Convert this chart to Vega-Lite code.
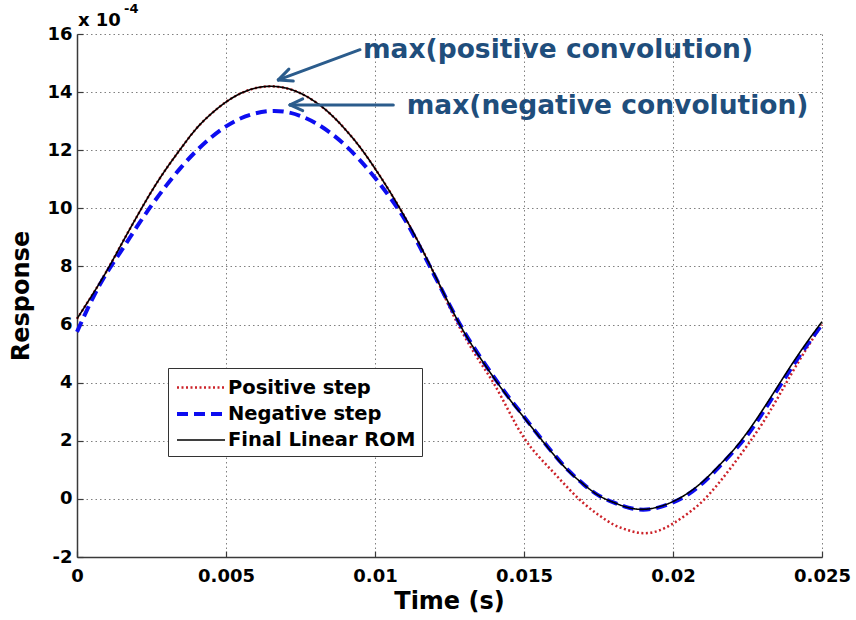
{
  "$schema": "https://vega.github.io/schema/vega-lite/v6.json",
  "width": 745,
  "height": 523,
  "autosize": {"type": "none"},
  "padding": {"left": 77, "top": 34, "right": 34, "bottom": 63},
  "background": "white",
  "config": {"view": {"stroke": null}, "font": "DejaVu Sans"},
  "datasets": {
    "curves": [
      {"t":0,"v":6.2,"s":"Positive step"},{"t":0.0005,"v":7.0,"s":"Positive step"},{"t":0.001,"v":7.85,"s":"Positive step"},{"t":0.0015,"v":8.78,"s":"Positive step"},{"t":0.002,"v":9.7,"s":"Positive step"},{"t":0.0025,"v":10.58,"s":"Positive step"},{"t":0.003,"v":11.37,"s":"Positive step"},{"t":0.0035,"v":12.08,"s":"Positive step"},{"t":0.004,"v":12.74,"s":"Positive step"},{"t":0.0045,"v":13.25,"s":"Positive step"},{"t":0.005,"v":13.66,"s":"Positive step"},{"t":0.0055,"v":13.96,"s":"Positive step"},{"t":0.006,"v":14.14,"s":"Positive step"},{"t":0.0065,"v":14.2,"s":"Positive step"},{"t":0.007,"v":14.14,"s":"Positive step"},{"t":0.0075,"v":13.96,"s":"Positive step"},{"t":0.008,"v":13.66,"s":"Positive step"},{"t":0.0085,"v":13.25,"s":"Positive step"},{"t":0.009,"v":12.72,"s":"Positive step"},{"t":0.0095,"v":12.1,"s":"Positive step"},{"t":0.01,"v":11.37,"s":"Positive step"},{"t":0.0105,"v":10.57,"s":"Positive step"},{"t":0.011,"v":9.7,"s":"Positive step"},{"t":0.0115,"v":8.75,"s":"Positive step"},{"t":0.012,"v":7.72,"s":"Positive step"},{"t":0.0125,"v":6.6,"s":"Positive step"},{"t":0.013,"v":5.6,"s":"Positive step"},{"t":0.0135,"v":4.75,"s":"Positive step"},{"t":0.014,"v":3.95,"s":"Positive step"},{"t":0.0145,"v":3.0,"s":"Positive step"},{"t":0.015,"v":2.1,"s":"Positive step"},{"t":0.0155,"v":1.45,"s":"Positive step"},{"t":0.016,"v":0.9,"s":"Positive step"},{"t":0.0165,"v":0.35,"s":"Positive step"},{"t":0.017,"v":-0.15,"s":"Positive step"},{"t":0.0175,"v":-0.55,"s":"Positive step"},{"t":0.018,"v":-0.88,"s":"Positive step"},{"t":0.0185,"v":-1.08,"s":"Positive step"},{"t":0.019,"v":-1.18,"s":"Positive step"},{"t":0.0195,"v":-1.1,"s":"Positive step"},{"t":0.02,"v":-0.85,"s":"Positive step"},{"t":0.0205,"v":-0.5,"s":"Positive step"},{"t":0.021,"v":-0.07,"s":"Positive step"},{"t":0.0215,"v":0.5,"s":"Positive step"},{"t":0.022,"v":1.15,"s":"Positive step"},{"t":0.0225,"v":1.85,"s":"Positive step"},{"t":0.023,"v":2.6,"s":"Positive step"},{"t":0.0235,"v":3.45,"s":"Positive step"},{"t":0.024,"v":4.35,"s":"Positive step"},{"t":0.0245,"v":5.2,"s":"Positive step"},{"t":0.025,"v":6.0,"s":"Positive step"},
      {"t":0,"v":5.75,"s":"Negative step"},{"t":0.0005,"v":6.85,"s":"Negative step"},{"t":0.001,"v":7.78,"s":"Negative step"},{"t":0.0015,"v":8.56,"s":"Negative step"},{"t":0.002,"v":9.35,"s":"Negative step"},{"t":0.0025,"v":10.1,"s":"Negative step"},{"t":0.003,"v":10.79,"s":"Negative step"},{"t":0.0035,"v":11.42,"s":"Negative step"},{"t":0.004,"v":11.97,"s":"Negative step"},{"t":0.0045,"v":12.44,"s":"Negative step"},{"t":0.005,"v":12.82,"s":"Negative step"},{"t":0.0055,"v":13.1,"s":"Negative step"},{"t":0.006,"v":13.27,"s":"Negative step"},{"t":0.0065,"v":13.35,"s":"Negative step"},{"t":0.007,"v":13.32,"s":"Negative step"},{"t":0.0075,"v":13.18,"s":"Negative step"},{"t":0.008,"v":12.94,"s":"Negative step"},{"t":0.0085,"v":12.6,"s":"Negative step"},{"t":0.009,"v":12.17,"s":"Negative step"},{"t":0.0095,"v":11.65,"s":"Negative step"},{"t":0.01,"v":11.05,"s":"Negative step"},{"t":0.0105,"v":10.38,"s":"Negative step"},{"t":0.011,"v":9.62,"s":"Negative step"},{"t":0.0115,"v":8.68,"s":"Negative step"},{"t":0.012,"v":7.68,"s":"Negative step"},{"t":0.0125,"v":6.68,"s":"Negative step"},{"t":0.013,"v":5.74,"s":"Negative step"},{"t":0.0135,"v":4.93,"s":"Negative step"},{"t":0.014,"v":4.18,"s":"Negative step"},{"t":0.0145,"v":3.48,"s":"Negative step"},{"t":0.015,"v":2.83,"s":"Negative step"},{"t":0.0155,"v":2.17,"s":"Negative step"},{"t":0.016,"v":1.54,"s":"Negative step"},{"t":0.0165,"v":0.97,"s":"Negative step"},{"t":0.017,"v":0.5,"s":"Negative step"},{"t":0.0175,"v":0.12,"s":"Negative step"},{"t":0.018,"v":-0.12,"s":"Negative step"},{"t":0.0185,"v":-0.3,"s":"Negative step"},{"t":0.019,"v":-0.37,"s":"Negative step"},{"t":0.0195,"v":-0.3,"s":"Negative step"},{"t":0.02,"v":-0.12,"s":"Negative step"},{"t":0.0205,"v":0.15,"s":"Negative step"},{"t":0.021,"v":0.55,"s":"Negative step"},{"t":0.0215,"v":1.05,"s":"Negative step"},{"t":0.022,"v":1.6,"s":"Negative step"},{"t":0.0225,"v":2.2,"s":"Negative step"},{"t":0.023,"v":2.95,"s":"Negative step"},{"t":0.0235,"v":3.75,"s":"Negative step"},{"t":0.024,"v":4.55,"s":"Negative step"},{"t":0.0245,"v":5.3,"s":"Negative step"},{"t":0.025,"v":6.0,"s":"Negative step"},
      {"t":0,"v":6.2,"s":"Final Linear ROM"},{"t":0.0005,"v":7.0,"s":"Final Linear ROM"},{"t":0.001,"v":7.85,"s":"Final Linear ROM"},{"t":0.0015,"v":8.78,"s":"Final Linear ROM"},{"t":0.002,"v":9.7,"s":"Final Linear ROM"},{"t":0.0025,"v":10.58,"s":"Final Linear ROM"},{"t":0.003,"v":11.37,"s":"Final Linear ROM"},{"t":0.0035,"v":12.08,"s":"Final Linear ROM"},{"t":0.004,"v":12.74,"s":"Final Linear ROM"},{"t":0.0045,"v":13.25,"s":"Final Linear ROM"},{"t":0.005,"v":13.66,"s":"Final Linear ROM"},{"t":0.0055,"v":13.96,"s":"Final Linear ROM"},{"t":0.006,"v":14.14,"s":"Final Linear ROM"},{"t":0.0065,"v":14.2,"s":"Final Linear ROM"},{"t":0.007,"v":14.14,"s":"Final Linear ROM"},{"t":0.0075,"v":13.96,"s":"Final Linear ROM"},{"t":0.008,"v":13.66,"s":"Final Linear ROM"},{"t":0.0085,"v":13.25,"s":"Final Linear ROM"},{"t":0.009,"v":12.72,"s":"Final Linear ROM"},{"t":0.0095,"v":12.1,"s":"Final Linear ROM"},{"t":0.01,"v":11.37,"s":"Final Linear ROM"},{"t":0.0105,"v":10.57,"s":"Final Linear ROM"},{"t":0.011,"v":9.7,"s":"Final Linear ROM"},{"t":0.0115,"v":8.75,"s":"Final Linear ROM"},{"t":0.012,"v":7.72,"s":"Final Linear ROM"},{"t":0.0125,"v":6.68,"s":"Final Linear ROM"},{"t":0.013,"v":5.72,"s":"Final Linear ROM"},{"t":0.0135,"v":4.9,"s":"Final Linear ROM"},{"t":0.014,"v":4.15,"s":"Final Linear ROM"},{"t":0.0145,"v":3.45,"s":"Final Linear ROM"},{"t":0.015,"v":2.8,"s":"Final Linear ROM"},{"t":0.0155,"v":2.15,"s":"Final Linear ROM"},{"t":0.016,"v":1.52,"s":"Final Linear ROM"},{"t":0.0165,"v":0.95,"s":"Final Linear ROM"},{"t":0.017,"v":0.5,"s":"Final Linear ROM"},{"t":0.0175,"v":0.12,"s":"Final Linear ROM"},{"t":0.018,"v":-0.12,"s":"Final Linear ROM"},{"t":0.0185,"v":-0.3,"s":"Final Linear ROM"},{"t":0.019,"v":-0.36,"s":"Final Linear ROM"},{"t":0.0195,"v":-0.28,"s":"Final Linear ROM"},{"t":0.02,"v":-0.09,"s":"Final Linear ROM"},{"t":0.0205,"v":0.2,"s":"Final Linear ROM"},{"t":0.021,"v":0.6,"s":"Final Linear ROM"},{"t":0.0215,"v":1.1,"s":"Final Linear ROM"},{"t":0.022,"v":1.65,"s":"Final Linear ROM"},{"t":0.0225,"v":2.3,"s":"Final Linear ROM"},{"t":0.023,"v":3.05,"s":"Final Linear ROM"},{"t":0.0235,"v":3.85,"s":"Final Linear ROM"},{"t":0.024,"v":4.65,"s":"Final Linear ROM"},{"t":0.0245,"v":5.4,"s":"Final Linear ROM"},{"t":0.025,"v":6.1,"s":"Final Linear ROM"}
    ],
    "arrows": [
      {"t":0.009497,"v":15.46,"t2":0.006755,"v2":14.42},
      {"t":0.006755,"v":14.42,"t2":0.007258,"v2":14.38},
      {"t":0.006755,"v":14.42,"t2":0.007111,"v2":14.79},
      {"t":0.010614,"v":13.56,"t2":0.007148,"v2":13.56},
      {"t":0.007148,"v":13.56,"t2":0.007574,"v2":13.77},
      {"t":0.007148,"v":13.56,"t2":0.007574,"v2":13.36}
    ],
    "notes": [
      {"t":0.009597,"v":15.17,"label":"max(positive convolution)","role":"note"},
      {"t":0.011064,"v":13.24,"label":"max(negative convolution)","role":"note"},
      {"t":0.00003,"v":16.26,"label":"x 10","role":"mult"},
      {"t":0.00158,"v":16.72,"label":"-4","role":"exp"}
    ]
  },
  "encoding": {
    "x": {
      "field": "t", "type": "quantitative",
      "scale": {"domain": [0, 0.025], "nice": false, "zero": false},
      "axis": {
        "title": "Time (s)", "values": [0, 0.005, 0.01, 0.015, 0.02, 0.025], "labelExpr": "'' + datum.value",
        "grid": true, "gridDash": [1.5, 3], "gridColor": "#808080", "gridWidth": 1,
        "domainColor": "#3a3a3a", "domainWidth": 1.5, "tickColor": "#3a3a3a", "tickWidth": 1.2, "tickSize": -6,
        "labelPadding": 16, "labelFont": "DejaVu Sans", "labelFontWeight": "bold", "labelFontSize": 18, "labelColor": "black",
        "labelFlush": false, "labelOverlap": false,
        "titleFont": "DejaVu Sans", "titleFontWeight": "bold", "titleFontSize": 24, "titleColor": "black",
        "titleX": 372, "titleY": 51, "titleBaseline": "alphabetic", "titleAlign": "center"
      }
    },
    "y": {
      "field": "v", "type": "quantitative",
      "scale": {"domain": [-2, 16], "nice": false, "zero": false},
      "axis": {
        "title": "Response", "values": [-2, 0, 2, 4, 6, 8, 10, 12, 14, 16], "labelExpr": "'' + datum.value",
        "grid": true, "gridDash": [1.5, 3], "gridColor": "#808080", "gridWidth": 1,
        "domainColor": "#3a3a3a", "domainWidth": 1.5, "tickColor": "#3a3a3a", "tickWidth": 1.2, "tickSize": -6,
        "labelPadding": 11, "labelFont": "DejaVu Sans", "labelFontWeight": "bold", "labelFontSize": 18, "labelColor": "black",
        "labelFlush": false, "labelOverlap": false,
        "titleFont": "DejaVu Sans", "titleFontWeight": "bold", "titleFontSize": 24, "titleColor": "black",
        "titleX": -49, "titleY": 261.5, "titleAngle": -90, "titleBaseline": "alphabetic", "titleAlign": "center"
      }
    }
  },
  "layer": [
    {
      "data": {"name": "curves"},
      "mark": {"type": "line", "interpolate": "natural"},
      "encoding": {
        "color": {
          "field": "s", "type": "nominal",
          "scale": {"domain": ["Positive step", "Negative step", "Final Linear ROM"], "range": ["#cc2229", "#0d0df0", "#000000"]},
          "legend": {"title": null, "orient": "none", "legendX": 91, "legendY": 334, "symbolType": "M-2,0H2", "symbolSize": 576, "symbolOffset": 13,
            "labelFont": "DejaVu Sans", "labelFontWeight": "bold", "labelFontSize": 19.5, "labelColor": "black", "labelOffset": 13, "labelLimit": 400,
            "strokeColor": "#333333", "fillColor": "white", "padding": 6, "rowPadding": 3}
        },
        "strokeDash": {
          "field": "s", "type": "nominal",
          "scale": {"domain": ["Positive step", "Negative step", "Final Linear ROM"], "range": [[2, 2.5], [11, 6], [1, 0]]},
          "legend": {"title": null, "orient": "none", "legendX": 91, "legendY": 334, "symbolType": "M-2,0H2", "symbolSize": 576, "symbolOffset": 13,
            "labelFont": "DejaVu Sans", "labelFontWeight": "bold", "labelFontSize": 19.5, "labelColor": "black", "labelOffset": 13, "labelLimit": 400,
            "strokeColor": "#333333", "fillColor": "white", "padding": 6, "rowPadding": 3}
        },
        "strokeWidth": {
          "field": "s", "type": "nominal",
          "scale": {"type": "ordinal", "domain": ["Positive step", "Negative step", "Final Linear ROM"], "range": [2.5, 4, 1.6]},
          "legend": {"title": null, "orient": "none", "legendX": 91, "legendY": 334, "symbolType": "M-2,0H2", "symbolSize": 576, "symbolOffset": 13,
            "labelFont": "DejaVu Sans", "labelFontWeight": "bold", "labelFontSize": 19.5, "labelColor": "black", "labelOffset": 13, "labelLimit": 400,
            "strokeColor": "#333333", "fillColor": "white", "padding": 6, "rowPadding": 3}
        }
      }
    },
    {
      "data": {"name": "arrows"},
      "mark": {"type": "rule", "color": "#2b5c8c", "strokeWidth": 3, "strokeCap": "round"},
      "encoding": {"x2": {"field": "t2"}, "y2": {"field": "v2"}}
    },
    {
      "data": {"name": "notes"},
      "transform": [{"filter": "datum.role == 'note'"}],
      "mark": {"type": "text", "align": "left", "baseline": "alphabetic", "font": "DejaVu Sans", "fontWeight": "bold", "fontSize": 26.5, "color": "#1f4e7c"},
      "encoding": {"text": {"field": "label", "type": "nominal"}}
    },
    {
      "data": {"name": "notes"},
      "transform": [{"filter": "datum.role == 'mult'"}],
      "mark": {"type": "text", "align": "left", "baseline": "alphabetic", "font": "DejaVu Sans", "fontWeight": "bold", "fontSize": 18, "color": "black"},
      "encoding": {"text": {"field": "label", "type": "nominal"}}
    },
    {
      "data": {"name": "notes"},
      "transform": [{"filter": "datum.role == 'exp'"}],
      "mark": {"type": "text", "align": "left", "baseline": "alphabetic", "font": "DejaVu Sans", "fontWeight": "bold", "fontSize": 13, "color": "black"},
      "encoding": {"text": {"field": "label", "type": "nominal"}}
    }
  ]
}
